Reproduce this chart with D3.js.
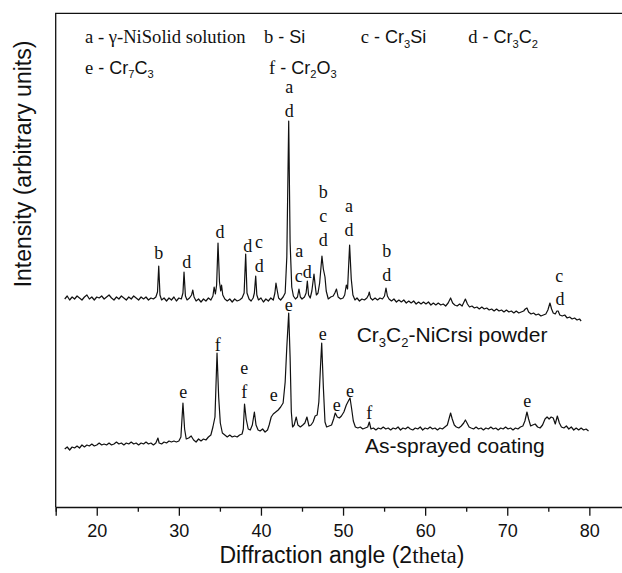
<!DOCTYPE html>
<html><head><meta charset="utf-8">
<script src="https://cdn.jsdelivr.net/npm/d3@7"></script>
<style>body{margin:0;background:#fff}</style>
</head><body><svg id="c" width="622" height="573"></svg>
<script>
// ---- data (2theta in degrees, intensity in arbitrary units) ----
const powder = [
[16.1,208],[16.4,211],[16.7,207],[17.0,210],[17.3,208],[17.6,211],[17.9,209],[18.2,207],[18.5,210],[18.8,212],
[19.1,208],[19.4,210],[19.7,207],[20.0,210],[20.3,209],[20.6,211],[20.9,208],[21.2,210],[21.5,212],[21.8,209],
[22.1,207],[22.4,210],[22.7,208],[23.0,211],[23.3,209],[23.6,207],[23.9,210],[24.2,208],[24.5,211],[24.8,209],
[25.1,207],[25.4,210],[25.7,208],[26.0,210],[26.3,207],[26.6,209],[26.9,208],[27.2,210],[27.4,215],[27.55,241],
[27.7,212],[27.9,207],[28.2,209],[28.5,206],[28.8,209],[29.1,207],[29.4,210],[29.7,206],[30.0,209],[30.3,208],
[30.5,214],[30.63,235],[30.8,211],[31.0,207],[31.3,209],[31.55,212],[31.7,217],[31.85,210],[32.1,206],[32.4,208],
[32.7,205],[33.0,208],[33.3,206],[33.6,209],[33.9,207],[34.15,211],[34.3,220],[34.45,213],[34.6,222],[34.77,264],
[34.95,225],[35.1,216],[35.2,222],[35.35,212],[35.6,208],[35.9,206],[36.2,208],[36.5,205],[36.8,208],[37.1,206],
[37.4,207],[37.7,209],[37.95,214],[38.14,253],[38.3,214],[38.55,208],[38.8,206],[39.05,209],[39.2,214],[39.36,231],
[39.5,212],[39.7,207],[40.0,209],[40.3,205],[40.6,208],[40.9,206],[41.2,209],[41.5,207],[41.7,214],[41.83,224],
[41.95,218],[42.15,209],[42.4,207],[42.7,210],[42.95,214],[43.15,250],[43.38,386],[43.55,265],[43.75,220],[43.95,211],
[44.2,208],[44.45,210],[44.63,218],[44.8,210],[45.0,208],[45.3,210],[45.5,214],[45.65,226],[45.8,212],[46.0,209],
[46.2,216],[46.46,233],[46.6,222],[46.75,212],[46.95,214],[47.15,224],[47.43,251],[47.6,238],[47.8,230],[47.95,216],
[48.2,208],[48.5,210],[48.8,211],[49.0,214],[49.2,218],[49.4,210],[49.7,208],[50.0,209],[50.2,212],[50.4,222],
[50.55,218],[50.8,262],[51.0,228],[51.2,212],[51.45,207],[51.7,209],[52.0,206],[52.3,208],[52.6,207],[52.9,209],
[53.1,212],[53.2,215],[53.35,209],[53.6,207],[53.9,209],[54.2,207],[54.5,209],[54.8,208],[55.05,211],[55.23,219],
[55.4,211],[55.6,208],[55.9,206],[56.2,208],[56.5,205],[56.8,207],[57.1,205],[57.4,207],[57.7,204],[58.0,206],
[58.3,204],[58.6,206],[58.9,203],[59.2,205],[59.5,203],[59.8,205],[60.1,203],[60.4,205],[60.7,202],[61.0,204],
[61.3,202],[61.6,204],[61.9,202],[62.2,203],[62.5,201],[62.8,204],[63.1,209],[63.35,204],[63.6,202],[63.9,201],
[64.2,203],[64.5,201],[64.9,208],[65.15,203],[65.4,200],[65.7,201],[66.0,199],[66.3,200],[66.6,198],[66.9,200],
[67.2,198],[67.5,199],[67.8,197],[68.1,198],[68.4,196],[68.7,198],[69.0,196],[69.3,197],[69.6,195],[69.9,197],
[70.2,195],[70.5,196],[70.8,194],[71.1,196],[71.4,194],[71.7,195],[72.0,196],[72.2,198],[72.4,199],[72.6,195],
[72.9,193],[73.2,194],[73.5,192],[73.8,193],[74.1,191],[74.4,192],[74.7,193],[74.95,197],[75.2,204],[75.4,198],
[75.6,194],[75.85,193],[76.05,196],[76.2,196],[76.4,192],[76.7,191],[77.0,192],[77.3,189],[77.6,190],[77.9,188],
[78.2,189],[78.5,187],[78.8,188],[79.0,186]
];
const coating = [
[16.1,58],[16.4,60],[16.7,57],[17.0,60],[17.3,59],[17.6,61],[17.9,59],[18.2,62],[18.5,60],[18.8,62],
[19.1,61],[19.4,63],[19.7,61],[20.0,62],[20.3,64],[20.6,62],[20.9,63],[21.2,62],[21.5,64],[21.8,62],
[22.1,63],[22.4,65],[22.7,63],[23.0,64],[23.3,62],[23.6,64],[23.9,63],[24.2,65],[24.5,63],[24.8,64],
[25.1,62],[25.4,64],[25.7,63],[26.0,65],[26.3,63],[26.6,64],[26.9,62],[27.2,64],[27.45,69],[27.6,64],
[27.9,63],[28.2,65],[28.5,64],[28.8,66],[29.1,65],[29.4,66],[29.7,65],[30.0,66],[30.25,70],[30.5,104],
[30.7,78],[30.9,68],[31.2,69],[31.5,71],[31.8,67],[32.1,65],[32.4,68],[32.7,66],[33.0,68],[33.3,67],
[33.6,70],[33.9,72],[34.15,80],[34.4,90],[34.65,154],[34.85,110],[35.05,84],[35.3,74],[35.6,72],[35.9,70],
[36.2,72],[36.5,70],[36.8,71],[37.1,70],[37.4,72],[37.7,73],[37.85,78],[38.0,103],[38.2,88],[38.45,78],
[38.7,77],[38.95,82],[39.2,95],[39.4,82],[39.65,77],[39.9,76],[40.2,78],[40.5,75],[40.8,77],[41.0,82],
[41.25,90],[41.5,93],[41.8,95],[42.1,97],[42.4,100],[42.7,104],[42.95,125],[43.15,160],[43.38,194],[43.55,150],
[43.7,95],[43.85,80],[44.05,82],[44.3,90],[44.5,82],[44.8,80],[45.1,82],[45.35,84],[45.6,90],[45.85,81],
[46.1,82],[46.35,85],[46.6,91],[46.85,92],[47.05,105],[47.25,140],[47.4,164],[47.6,120],[47.8,85],[48.0,80],
[48.3,81],[48.6,82],[48.85,88],[49.05,94],[49.3,90],[49.55,89],[49.8,91],[50.1,95],[50.4,102],[50.65,106],
[50.85,109],[51.05,98],[51.25,86],[51.5,80],[51.8,79],[52.1,80],[52.4,78],[52.7,79],[53.0,80],[53.2,85],
[53.4,78],[53.7,79],[54.0,77],[54.3,79],[54.6,78],[54.9,80],[55.2,78],[55.5,79],[55.8,77],[56.1,79],
[56.4,78],[56.7,80],[57.0,77],[57.3,79],[57.6,78],[57.9,80],[58.2,78],[58.5,77],[58.8,79],[59.1,78],
[59.4,80],[59.7,77],[60.0,79],[60.3,78],[60.6,80],[60.9,78],[61.2,79],[61.5,77],[61.8,79],[62.1,78],
[62.4,80],[62.7,82],[62.9,88],[63.1,94],[63.3,88],[63.55,82],[63.8,80],[64.1,79],[64.4,81],[64.7,84],
[64.9,87],[65.1,84],[65.35,80],[65.6,79],[65.9,78],[66.2,80],[66.5,78],[66.8,79],[67.1,77],[67.4,79],
[67.7,78],[68.0,80],[68.3,78],[68.6,79],[68.9,77],[69.2,79],[69.5,78],[69.8,80],[70.1,78],[70.4,79],
[70.7,77],[71.0,79],[71.3,78],[71.6,80],[71.9,81],[72.15,86],[72.4,95],[72.6,88],[72.85,81],[73.1,82],
[73.4,83],[73.7,80],[74.0,79],[74.3,82],[74.6,88],[74.85,90],[75.1,88],[75.35,90],[75.6,89],[75.85,83],
[76.1,91],[76.35,84],[76.6,80],[76.9,79],[77.2,81],[77.5,78],[77.8,80],[78.1,77],[78.4,79],[78.7,77],
[79.0,79],[79.3,77],[79.6,78],[79.9,76]
];
const majorTicks = [20,30,40,50,60,70,80];
const minorTicks = [15,25,35,45,55,65,75];
// peak labels: [2theta, letter, intensity level of label baseline]
const powderLabels = [
[27.55,"b",248],[30.96,"d",239],[35.01,"d",269],[38.39,"d",255],[39.76,"c",259],[39.8,"d",235],
[43.45,"a",414],[43.45,"d",390],[44.67,"a",250],[44.6,"c",225],[45.65,"d",229],
[47.6,"b",309],[47.6,"c",285],[47.6,"d",261],[50.72,"a",295],[50.72,"d",271],
[55.32,"b",250],[55.32,"d",226],[76.34,"c",225],[76.42,"d",202]
];
const coatingLabels = [
[30.54,"e",109],[34.73,"f",156],[37.97,"e",133],[37.97,"f",109],[41.55,"e",106],[43.38,"e",196],
[47.52,"e",167],[49.23,"e",96],[50.85,"e",110],[53.2,"f",88],[72.44,"e",100]
];
// legend entries: segments [text, kind] (kind: serif | sans | sub)
const legendItems = [
  [["a - γ-NiSolid solution","serif"]],
  [["b","serif"],[" - Si","sans"]],
  [["c","serif"],[" - Cr","sans"],["3","sub"],["Si","sans"]],
  [["d","serif"],[" - Cr","sans"],["3","sub"],["C","sans"],["2","sub"]],
  [["e","serif"],[" - Cr","sans"],["7","sub"],["C","sans"],["3","sub"]],
  [["f","serif"],[" - Cr","sans"],["2","sub"],["O","sans"],["3","sub"]]
];
const seriesNames = [
  [["Cr","sans"],["3","sub"],["C","sans"],["2","sub"],["-NiCrsi powder","sans"]],
  [["As-sprayed coating","sans"]]
];

// ---- layout ----
const SERIF = "'Liberation Serif','Times New Roman',serif";
const SANS = "'Liberation Sans',Arial,Helvetica,sans-serif";
const svg = d3.select("#c");
const X0 = 55.7, TOP = 13.3, BOTTOM = 507;
const x = d3.scaleLinear().domain([15, 85]).range([X0, X0 + 70 * 8.21]);
const y = d3.scaleLinear().domain([0, 493.7]).range([BOTTOM, TOP]);

// frame
svg.append("path")
  .attr("d", `M${X0},${BOTTOM} L${X0},${TOP} L630,${TOP}`)
  .attr("fill", "none").attr("stroke", "#111").attr("stroke-width", 1.3);

// x axis
const gx = svg.append("g").attr("transform", `translate(0,${BOTTOM})`)
  .call(d3.axisBottom(x).tickValues(majorTicks).tickSize(8.7).tickPadding(8.2).tickFormat(d3.format("d")));
gx.select(".domain").attr("stroke", "#111").attr("stroke-width", 1.3);
gx.selectAll(".tick line").attr("stroke", "#111").attr("stroke-width", 1.3);
gx.selectAll("text").attr("font-family", SANS).attr("font-size", 18).attr("fill", "#111");
const gm = svg.append("g").attr("transform", `translate(0,${BOTTOM})`)
  .call(d3.axisBottom(x).tickValues(minorTicks).tickSize(4.7).tickFormat(""));
gm.select(".domain").remove();
gm.selectAll(".tick line").attr("stroke", "#111").attr("stroke-width", 1.3);

// axis titles
const xt = svg.append("text").attr("x", 342).attr("y", 563).attr("text-anchor", "middle")
  .attr("font-family", SANS).attr("font-size", 23).attr("fill", "#111");
xt.append("tspan").text("Diffraction angle (2");
xt.append("tspan").attr("font-family", SERIF).text("theta");
xt.append("tspan").text(")");
svg.append("text").attr("transform", "translate(31,164) rotate(-90)").attr("text-anchor", "middle")
  .attr("font-family", SANS).attr("font-size", 23).attr("fill", "#111")
  .text("Intensity (arbitrary units)");

// curves
const line = d3.line().x(d => x(d[0])).y(d => y(d[1]));
[powder, coating].forEach(s => svg.append("path").datum(s).attr("d", line)
  .attr("fill", "none").attr("stroke", "#111").attr("stroke-width", 1.2).attr("stroke-linejoin", "round"));

// peak labels
[powderLabels, coatingLabels].forEach(arr => svg.append("g").selectAll("text").data(arr).join("text")
  .attr("x", d => x(d[0])).attr("y", d => y(d[2])).attr("text-anchor", "middle")
  .attr("font-family", SERIF).attr("font-size", 18).attr("fill", "#111").text(d => d[1]));

// rich text helper
function rich(px, py, segs, size, serifSize) {
  const t = svg.append("text").attr("x", px).attr("y", py).attr("fill", "#111").attr("font-size", size);
  let lowered = false;
  segs.forEach(([txt, kind]) => {
    const sp = t.append("tspan").text(txt);
    if (kind === "sub") {
      sp.attr("font-family", SANS).attr("font-size", size * 0.62).attr("dy", lowered ? 0 : size * 0.24);
      lowered = true;
    } else {
      sp.attr("font-family", kind === "serif" ? SERIF : SANS);
      if (kind === "serif" && serifSize) sp.attr("font-size", serifSize);
      if (lowered) { sp.attr("dy", -size * 0.24); lowered = false; }
    }
  });
  return t;
}
const legendPos = [[85,43.3],[264,43.3],[360.7,43.3],[468.3,43.3],[85,74],[269,74]];
legendItems.forEach((segs, i) => rich(legendPos[i][0], legendPos[i][1], segs, 18, 18.6));
rich(356.7, 341.7, seriesNames[0], 21);
rich(365, 453.3, seriesNames[1], 21);
</script></body></html>
